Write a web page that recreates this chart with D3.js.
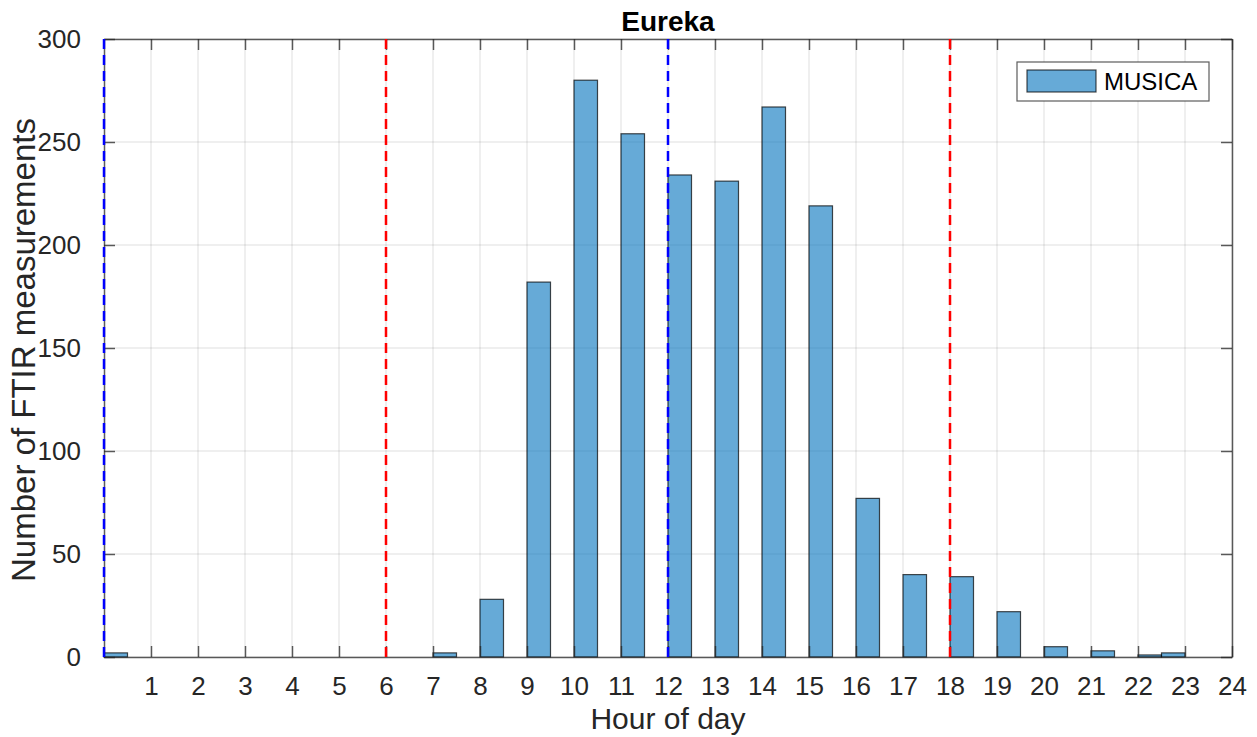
<!DOCTYPE html>
<html>
<head>
<meta charset="utf-8">
<script src="https://cdn.jsdelivr.net/npm/d3@7"></script>
<style>
  body { margin: 0; background: #fff; }
  text { font-family: "Liberation Sans", Arial, sans-serif; fill: #262626; }
</style>
</head>
<body>
<svg id="chart" width="1257" height="737"></svg>
<script>
// bin start (hour) and number of measurements in each half-hour bin
var binStart = [0, 7, 8, 9, 10, 11, 12, 13, 14, 15, 16, 17, 18, 19, 20, 21, 22, 22.5];
var counts   = [2, 2, 28, 182, 280, 254, 234, 231, 267, 219, 77, 40, 39, 22, 5, 3, 1, 2];
var binWidth = 0.5;

var xTicks = d3.range(1, 25);
var yTicks = [0, 50, 100, 150, 200, 250, 300];

// dashed reference lines
var blueLines = [0, 12];
var redLines = [6, 18];

var svg = d3.select("#chart");

var pLeft = 104, pRight = 1232, pTop = 39, pBottom = 657;

var x = d3.scaleLinear().domain([0, 24]).range([pLeft, pRight]);
var y = d3.scaleLinear().domain([0, 300]).range([pBottom, pTop]);

// grid
var grid = svg.append("g");
grid.selectAll(".gx").data(xTicks).enter().append("line")
    .attr("x1", d => x(d)).attr("x2", d => x(d))
    .attr("y1", pTop).attr("y2", pBottom)
    .attr("stroke", "#262626").attr("stroke-opacity", 0.15);
grid.selectAll(".gy").data(yTicks).enter().append("line")
    .attr("x1", pLeft).attr("x2", pRight)
    .attr("y1", d => y(d)).attr("y2", d => y(d))
    .attr("stroke", "#262626").attr("stroke-opacity", 0.15);

// bars
svg.append("g").selectAll("rect").data(counts).enter().append("rect")
    .attr("x", (d, i) => x(binStart[i]))
    .attr("width", (d, i) => x(binStart[i] + binWidth) - x(binStart[i]))
    .attr("y", d => y(d))
    .attr("height", d => y(0) - y(d))
    .attr("fill", "#0072BD").attr("fill-opacity", 0.6)
    .attr("stroke", "#000").attr("stroke-opacity", 0.7).attr("stroke-width", 1.2);

// axes (ticks inside, box on)
var tickLen = 11;
var xAxis = d3.axisBottom(x).tickValues(xTicks).tickSizeInner(-tickLen).tickSizeOuter(0).tickPadding(20);
var yAxis = d3.axisLeft(y).tickValues(yTicks).tickSizeInner(-tickLen).tickSizeOuter(0).tickPadding(23);

var gx = svg.append("g").attr("transform", "translate(0," + pBottom + ")").call(xAxis);
var gy = svg.append("g").attr("transform", "translate(" + pLeft + ",0)").call(yAxis);
var gxt = svg.append("g").attr("transform", "translate(0," + pTop + ")")
    .call(d3.axisTop(x).tickValues(xTicks).tickSizeInner(-tickLen).tickSizeOuter(0).tickFormat(""));
var gyr = svg.append("g").attr("transform", "translate(" + pRight + ",0)")
    .call(d3.axisRight(y).tickValues(yTicks).tickSizeInner(-tickLen).tickSizeOuter(0).tickFormat(""));

[gx, gy, gxt, gyr].forEach(function(g) {
  g.select(".domain").attr("stroke", "#262626").attr("stroke-opacity", 0.75).attr("stroke-width", 1.5);
  g.selectAll(".tick line").attr("stroke", "#262626").attr("stroke-opacity", 0.75).attr("stroke-width", 1.5);
  g.selectAll(".tick text").attr("font-size", 26).attr("fill", "#262626")
    .attr("font-family", "Liberation Sans, Arial, sans-serif");
});
gx.selectAll(".tick text").attr("dy", "0.71em");

// dashed lines (drawn over the axes)
svg.append("g").selectAll("line").data(blueLines).enter().append("line")
    .attr("x1", d => x(d)).attr("x2", d => x(d))
    .attr("y1", pTop).attr("y2", pBottom)
    .attr("stroke", "#0000ff").attr("stroke-width", 2.5).attr("stroke-dasharray", "10,6");
svg.append("g").selectAll("line").data(redLines).enter().append("line")
    .attr("x1", d => x(d)).attr("x2", d => x(d))
    .attr("y1", pTop).attr("y2", pBottom)
    .attr("stroke", "#ff0000").attr("stroke-width", 2.5).attr("stroke-dasharray", "10,6");

// labels
svg.append("text").attr("x", (pLeft + pRight) / 2).attr("y", 31)
    .attr("text-anchor", "middle").attr("font-size", 28).attr("font-weight", "bold")
    .style("fill", "#000").text("Eureka");
svg.append("text").attr("x", (pLeft + pRight) / 2).attr("y", 729)
    .attr("text-anchor", "middle").attr("font-size", 30).text("Hour of day");
svg.append("text")
    .attr("transform", "translate(35," + ((pTop + pBottom) / 2 + 2) + ") rotate(-90)")
    .attr("text-anchor", "middle").attr("font-size", 33).text("Number of FTIR measurements");

// legend
var lg = svg.append("g");
lg.append("rect").attr("x", 1017).attr("y", 62).attr("width", 192).attr("height", 39)
    .attr("fill", "#fff").attr("stroke", "#262626").attr("stroke-opacity", 0.75).attr("stroke-width", 1.2);
lg.append("rect").attr("x", 1027).attr("y", 70).attr("width", 69).attr("height", 22)
    .attr("fill", "#0072BD").attr("fill-opacity", 0.6)
    .attr("stroke", "#000").attr("stroke-opacity", 0.7).attr("stroke-width", 1.2);
lg.append("text").attr("x", 1104).attr("y", 90).attr("font-size", 24).style("fill", "#000").text("MUSICA");
</script>
</body>
</html>
